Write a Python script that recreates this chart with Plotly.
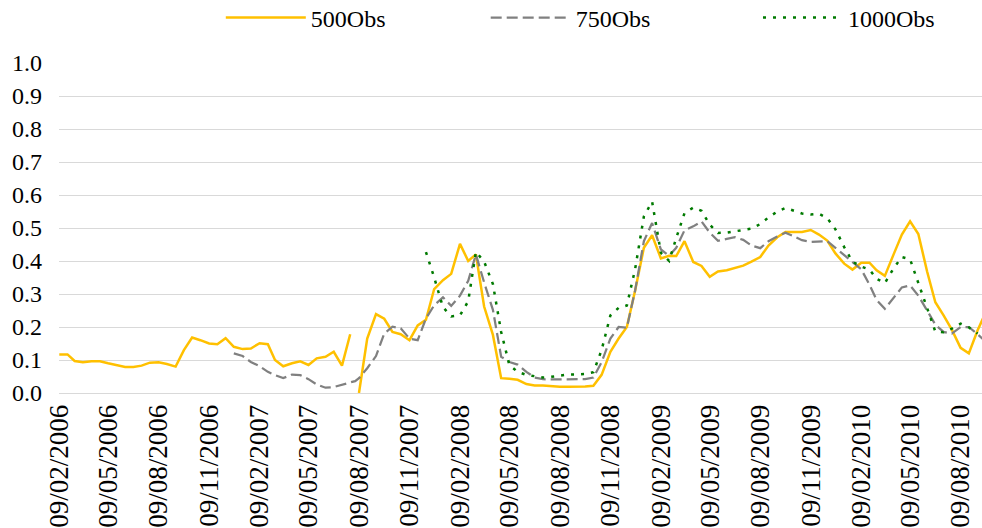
"""
観測数別の推移チャート
"""
import pandas as pd
import plotly.graph_objects as go

# 半月ごとの観測日（2007-08-02 は 500Obs の途切れ用）
dates = [
    # 2006
    "2006-02-09", "2006-02-24", "2006-03-09", "2006-03-24", "2006-04-09", "2006-04-24",
    "2006-05-09", "2006-05-24", "2006-06-09", "2006-06-24", "2006-07-09", "2006-07-24",
    "2006-08-09", "2006-08-24", "2006-09-09", "2006-09-24", "2006-10-09", "2006-10-24",
    "2006-11-09", "2006-11-24", "2006-12-09", "2006-12-24",
    # 2007
    "2007-01-09", "2007-01-24", "2007-02-09", "2007-02-24", "2007-03-09", "2007-03-24",
    "2007-04-09", "2007-04-24", "2007-05-09", "2007-05-24", "2007-06-09", "2007-06-24",
    "2007-07-09", "2007-07-24", "2007-08-02",
    "2007-08-09", "2007-08-24", "2007-09-09", "2007-09-24", "2007-10-09", "2007-10-24",
    "2007-11-09", "2007-11-24", "2007-12-09", "2007-12-24",
    # 2008
    "2008-01-09", "2008-01-24", "2008-02-09", "2008-02-24", "2008-03-09", "2008-03-24",
    "2008-04-09", "2008-04-24", "2008-05-09", "2008-05-24", "2008-06-09", "2008-06-24",
    "2008-07-09", "2008-07-24", "2008-08-09", "2008-08-24", "2008-09-09", "2008-09-24",
    "2008-10-09", "2008-10-24", "2008-11-09", "2008-11-24", "2008-12-09", "2008-12-24",
    # 2009
    "2009-01-09", "2009-01-24", "2009-02-09", "2009-02-24", "2009-03-09", "2009-03-24",
    "2009-04-09", "2009-04-24", "2009-05-09", "2009-05-24", "2009-06-09", "2009-06-24",
    "2009-07-09", "2009-07-24", "2009-08-09", "2009-08-24", "2009-09-09", "2009-09-24",
    "2009-10-09", "2009-10-24", "2009-11-09", "2009-11-24", "2009-12-09", "2009-12-24",
    # 2010
    "2010-01-09", "2010-01-24", "2010-02-09", "2010-02-24", "2010-03-09", "2010-03-24",
    "2010-04-09", "2010-04-24", "2010-05-09", "2010-05-24", "2010-06-09", "2010-06-24",
    "2010-07-09", "2010-07-24", "2010-08-09", "2010-08-24", "2010-09-09", "2010-09-24",
]

obs_500 = [
    # 2006
    0.117, 0.117, 0.097, 0.093, 0.096, 0.096, 0.090, 0.085, 0.079, 0.079, 0.083, 0.092,
    0.093, 0.088, 0.080, 0.130, 0.168, 0.160, 0.150, 0.148, 0.166, 0.140,
    # 2007
    0.133, 0.135, 0.151, 0.148, 0.100, 0.081, 0.090, 0.096, 0.085, 0.105, 0.110, 0.125,
    0.083, 0.178, None,
    0.000, 0.165, 0.239, 0.225, 0.185, 0.178, 0.160, 0.205, 0.222, 0.315,
    # 2008
    0.342, 0.361, 0.452, 0.400, 0.420, 0.262, 0.176, 0.045, 0.043, 0.040, 0.027, 0.023,
    0.023, 0.020, 0.019, 0.019, 0.019, 0.020, 0.022, 0.055, 0.125, 0.165, 0.200, 0.310,
    # 2009
    0.440, 0.478, 0.408, 0.416, 0.415, 0.460, 0.397, 0.385, 0.352, 0.368, 0.372, 0.380,
    0.386, 0.398, 0.412, 0.447, 0.472, 0.488, 0.488, 0.488, 0.494, 0.480, 0.462, 0.423,
    # 2010
    0.392, 0.374, 0.395, 0.395, 0.372, 0.355, 0.420, 0.480, 0.520, 0.482, 0.368, 0.275,
    0.235, 0.192, 0.137, 0.120, 0.190, 0.245,
]

obs_750 = [
    # 2006
    None, None, None, None, None, None, None, None, None, None, None, None,
    None, None, None, None, None, None, None, None, None, 0.120,
    # 2007
    0.112, 0.094, 0.081, 0.064, 0.054, 0.045, 0.056, 0.054, 0.042, 0.026, 0.016, 0.018,
    0.024, 0.032, 0.036,
    0.045, 0.075, 0.112, 0.180, 0.201, 0.196, 0.165, 0.160, 0.226, 0.266,
    # 2008
    0.290, 0.264, 0.295, 0.340, 0.420, 0.335, 0.252, 0.110, 0.094, 0.086, 0.064, 0.047,
    0.042, 0.041, 0.041, 0.041, 0.041, 0.042, 0.047, 0.093, 0.165, 0.200, 0.198, 0.310,
    # 2009
    0.460, 0.515, 0.435, 0.416, 0.440, 0.493, 0.505, 0.520, 0.486, 0.461, 0.467, 0.472,
    0.464, 0.447, 0.439, 0.460, 0.474, 0.486, 0.475, 0.463, 0.458, 0.460, 0.460, 0.440,
    # 2010
    0.418, 0.398, 0.375, 0.328, 0.282, 0.255, 0.288, 0.320, 0.326, 0.295, 0.250, 0.207,
    0.185, 0.180, 0.200, 0.200, 0.178, 0.155,
]

obs_1000 = [
    # 2006
    None, None, None, None, None, None, None, None, None, None, None, None,
    None, None, None, None, None, None, None, None, None, None,
    # 2007
    None, None, None, None, None, None, None, None, None, None, None, None,
    None, None, None,
    None, None, None, None, None, None, None, None, 0.427, 0.350,
    # 2008
    0.260, 0.232, 0.235, 0.278, 0.428, 0.398, 0.330, 0.185, 0.085, 0.064, 0.055, 0.050,
    0.047, 0.049, 0.053, 0.056, 0.056, 0.058, 0.063, 0.130, 0.235, 0.258, 0.265, 0.375,
    # 2009
    0.535, 0.580, 0.425, 0.400, 0.470, 0.545, 0.562, 0.552, 0.510, 0.485, 0.486, 0.491,
    0.494, 0.498, 0.512, 0.532, 0.550, 0.561, 0.552, 0.544, 0.541, 0.543, 0.530, 0.496,
    # 2010
    0.442, 0.398, 0.383, 0.374, 0.346, 0.333, 0.378, 0.412, 0.405, 0.335, 0.256, 0.186,
    0.184, 0.195, 0.210, 0.199, 0.180, None,
]

tick_labels = [
    "09/02/2006", "09/05/2006", "09/08/2006", "09/11/2006",
    "09/02/2007", "09/05/2007", "09/08/2007", "09/11/2007",
    "09/02/2008", "09/05/2008", "09/08/2008", "09/11/2008",
    "09/02/2009", "09/05/2009", "09/08/2009", "09/11/2009",
    "09/02/2010", "09/05/2010", "09/08/2010",
]

FONT = '"Liberation Serif", "Times New Roman", "DejaVu Serif", serif'
GRID = "#d9d9d9"


def add_series(fig, values, name, color, dash, width, legend):
    """系列を折れ線で追加する（凡例は系列ごとに別配置）"""
    fig.add_trace(go.Scatter(
        x=dates, y=values, name=name, mode="lines",
        line=dict(color=color, dash=dash, width=width),
        connectgaps=False, legend=legend,
    ))


def legend_box(x):
    """凡例1項目分の設定"""
    return dict(
        orientation="h", x=x, xanchor="left",
        yref="container", y=0.966, yanchor="middle",
        itemwidth=80, bgcolor="rgba(0,0,0,0)",
        font=dict(family=FONT, size=24, color="black"),
    )


fig = go.Figure()
add_series(fig, obs_500, "500Obs", "#ffc000", "solid", 2.5, "legend")
add_series(fig, obs_750, "750Obs", "#808080", "11px,5px", 2.25, "legend2")
add_series(fig, obs_1000, "1000Obs", "#007a00", "3px,7px", 2.5, "legend3")

tick_vals = pd.to_datetime(tick_labels, format="%d/%m/%Y")

fig.update_layout(
    width=982, height=528,
    margin=dict(l=59, r=0, t=63, b=135),
    paper_bgcolor="white", plot_bgcolor="white",
    font=dict(family=FONT, size=24, color="black"),
    showlegend=True,
    legend=legend_box(0.1753),
    legend2=legend_box(0.4623),
    legend3=legend_box(0.7573),
)
fig.update_xaxes(
    type="date",
    range=["2006-02-08 12:00", "2010-09-17"],
    tickvals=tick_vals, ticktext=tick_labels, tickangle=-90,
    tickfont=dict(family=FONT, size=27, color="black"),
    showgrid=False, zeroline=False,
    showline=True, linecolor=GRID, linewidth=1,
    ticks="", automargin=False,
)
fig.update_yaxes(
    range=[0, 1.0], dtick=0.1, tickformat=".1f",
    tickfont=dict(family=FONT, size=24, color="black"),
    showgrid=True, gridcolor=GRID, gridwidth=1,
    zeroline=False, showline=False,
    ticks="", ticklabelstandoff=16, automargin=False,
)

# ページ既定の余白を消して 982x528 にぴったり収める（モードバーも非表示）
fig.write_html(
    "out.html",
    config={"displayModeBar": False},
    post_script="document.body.style.margin = '0';",
)
